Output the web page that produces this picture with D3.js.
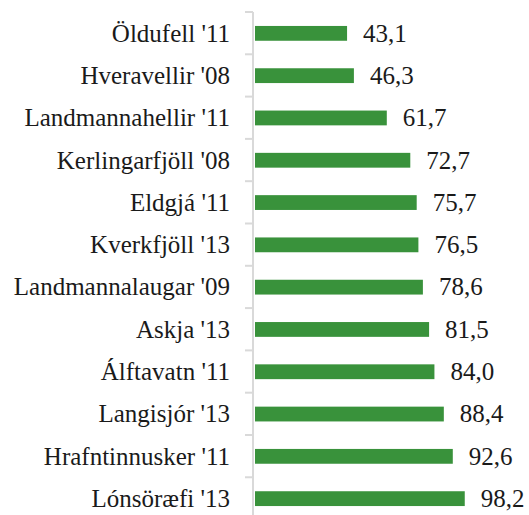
<!DOCTYPE html>
<html>
<head>
<meta charset="utf-8">
<script src="https://cdn.jsdelivr.net/npm/d3@7"></script>
<style>
  body { margin: 0; background: #fff; }
</style>
</head>
<body>
<svg></svg>
<script>
const categories = [
    "Öldufell '11",
    "Hveravellir '08",
    "Landmannahellir '11",
    "Kerlingarfjöll '08",
    "Eldgjá '11",
    "Kverkfjöll '13",
    "Landmannalaugar '09",
    "Askja '13",
    "Álftavatn '11",
    "Langisjór '13",
    "Hrafntinnusker '11",
    "Lónsöræfi '13"
];
const values = [43.1, 46.3, 61.7, 72.7, 75.7, 76.5, 78.6, 81.5, 84.0, 88.4, 92.6, 98.2];

const width = 529;
const height = 515;
const axisX = 253;
const axisTop = 12;
const axisBottom = 520;

const svg = d3.select('svg')
    .attr('width', width)
    .attr('height', height)
    .attr('font-family', 'Liberation Serif')
    .attr('font-size', 25);

const data = categories.map((c, i) => ({ name: c, value: values[i] }));

const xScale = d3.scaleLinear()
    .domain([0, 100])
    .range([axisX + 2, axisX + 2 + 213.6]);

const yScale = d3.scaleBand()
    .domain(categories)
    .range([axisTop, axisBottom])
    .paddingInner(0.65)
    .paddingOuter(0.33);

// bars
svg.selectAll('rect.bar')
    .data(data)
    .enter()
    .append('rect')
    .attr('class', 'bar')
    .attr('x', xScale(0))
    .attr('y', d => yScale(d.name))
    .attr('width', d => xScale(d.value) - xScale(0))
    .attr('height', yScale.bandwidth())
    .attr('fill', '#39923b');

// category axis: line + ticks between categories
const axis = svg.append('g').attr('id', 'y-axis');
axis.append('line')
    .attr('x1', axisX).attr('x2', axisX)
    .attr('y1', axisTop).attr('y2', axisBottom)
    .attr('stroke', '#d9d9d9')
    .attr('stroke-width', 2);
axis.selectAll('line.tick')
    .data(d3.range(categories.length + 1))
    .enter()
    .append('line')
    .attr('class', 'tick')
    .attr('x1', axisX - 8).attr('x2', axisX)
    .attr('y1', i => axisTop + i * yScale.step())
    .attr('y2', i => axisTop + i * yScale.step())
    .attr('stroke', '#d9d9d9')
    .attr('stroke-width', 2);

// category labels
svg.selectAll('text.label')
    .data(data)
    .enter()
    .append('text')
    .attr('class', 'label')
    .attr('x', axisX - 23)
    .attr('y', d => yScale(d.name) + yScale.bandwidth() / 2)
    .attr('dy', '0.33em')
    .attr('text-anchor', 'end')
    .attr('fill', '#1a1a1a')
    .text(d => d.name);

// value labels
const fmt = v => v.toFixed(1).replace('.', ',');
svg.selectAll('text.value')
    .data(data)
    .enter()
    .append('text')
    .attr('class', 'value')
    .attr('x', d => xScale(d.value) + 16)
    .attr('y', d => yScale(d.name) + yScale.bandwidth() / 2)
    .attr('dy', '0.33em')
    .attr('fill', '#1a1a1a')
    .text(d => fmt(d.value));
</script>
</body>
</html>
